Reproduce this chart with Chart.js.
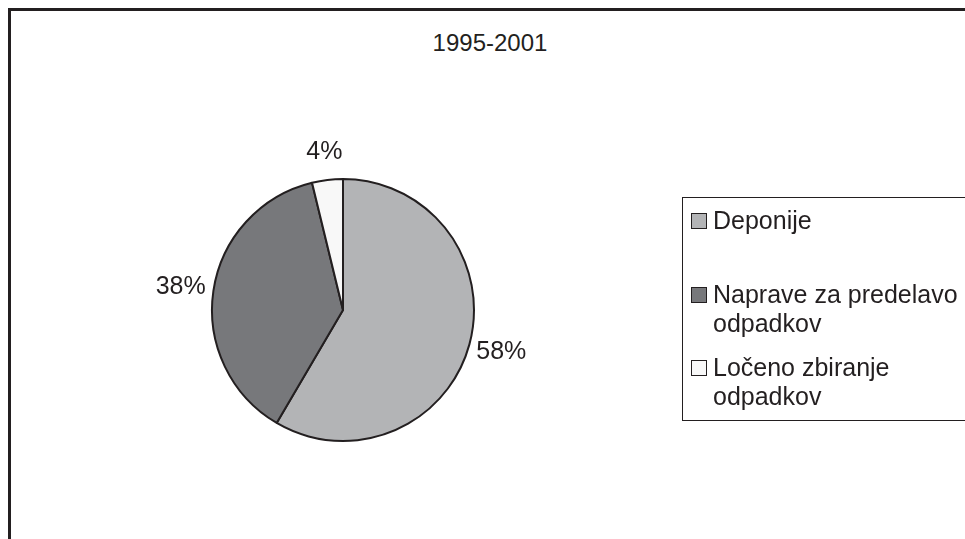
<!DOCTYPE html>
<html>
<head>
<meta charset="utf-8">
<script src="https://cdn.jsdelivr.net/npm/chart.js@4.4.0/dist/chart.umd.min.js"></script>
<style>
  html, body { margin: 0; padding: 0; background: #fff; overflow: hidden; }
  body { width: 965px; height: 539px; position: relative; font-family: "Liberation Sans", Arial, sans-serif; color: #231f20; }
  .frame { position: absolute; left: 8px; top: 8px; width: 1000px; height: 600px; border-left: 3px solid #231f20; border-top: 3px solid #231f20; }
  .title { position: absolute; left: 290px; width: 400px; top: 28px; text-align: center; font-size: 24px; line-height: 29px; }
  .legend { position: absolute; left: 682px; top: 197px; width: 400px; height: 222px; border: 1px solid #231f20; }
  .item { position: absolute; left: 0; }
  .box { position: absolute; left: 8px; width: 14px; height: 14px; border: 1px solid #231f20; }
  .txt { position: absolute; left: 30px; width: 260px; font-size: 25px; line-height: 29px; }
  #wrap { position: absolute; left: 0; top: 0; width: 965px; height: 539px; }
</style>
</head>
<body>
<div class="frame"></div>
<div class="title">1995-2001</div>
<div id="wrap"><canvas id="pie"></canvas></div>
<div class="legend" id="legend"></div>
<script>
const categories = ["Deponije", "Naprave za predelavo odpadkov", "Ločeno zbiranje odpadkov"];
const shares = [58.45, 37.75, 3.8];
const sliceColors = ["#b3b4b6", "#77787b", "#f8f8f8"];

// legend rows (top of each item inside the legend box)
const legendTops = [8, 82, 155];

const legend = document.getElementById("legend");
categories.forEach((name, i) => {
  const item = document.createElement("div");
  item.className = "item";
  item.style.top = legendTops[i] + "px";
  const box = document.createElement("div");
  box.className = "box";
  box.style.top = "7px";
  box.style.background = sliceColors[i];
  const txt = document.createElement("div");
  txt.className = "txt";
  txt.style.top = "0px";
  txt.textContent = name;
  item.appendChild(box);
  item.appendChild(txt);
  legend.appendChild(item);
});

const outsideLabels = {
  id: "outsideLabels",
  afterDatasetsDraw(chart) {
    const ctx = chart.ctx;
    const meta = chart.getDatasetMeta(0);
    ctx.save();
    ctx.font = "25px 'Liberation Sans', Arial, sans-serif";
    ctx.fillStyle = "#231f20";
    ctx.textAlign = "center";
    ctx.textBaseline = "middle";
    meta.data.forEach((arc, i) => {
      const p = arc.getProps(["x", "y", "startAngle", "endAngle", "outerRadius"], true);
      const mid = (p.startAngle + p.endAngle) / 2;
      const text = Math.round(shares[i]) + "%";
      const w = ctx.measureText(text).width;
      const r = p.outerRadius + 8;
      const cx = Math.cos(mid), cy = Math.sin(mid);
      const x = p.x + cx * r + cx * w / 2;
      const y = p.y + cy * r + cy * 20;
      ctx.fillText(text, x, y);
    });
    ctx.restore();
  }
};

new Chart(document.getElementById("pie"), {
  type: "pie",
  data: {
    labels: categories,
    datasets: [{
      data: shares,
      backgroundColor: sliceColors,
      borderColor: "#231f20",
      borderWidth: 2,
      radius: 131
    }]
  },
  options: {
    responsive: true,
    maintainAspectRatio: false,
    animation: false,
    layout: { padding: { left: 0, right: 279, top: 81, bottom: 0 } },
    plugins: {
      legend: { display: false },
      title: { display: false },
      tooltip: { enabled: false }
    }
  },
  plugins: [outsideLabels]
});
</script>
</body>
</html>
